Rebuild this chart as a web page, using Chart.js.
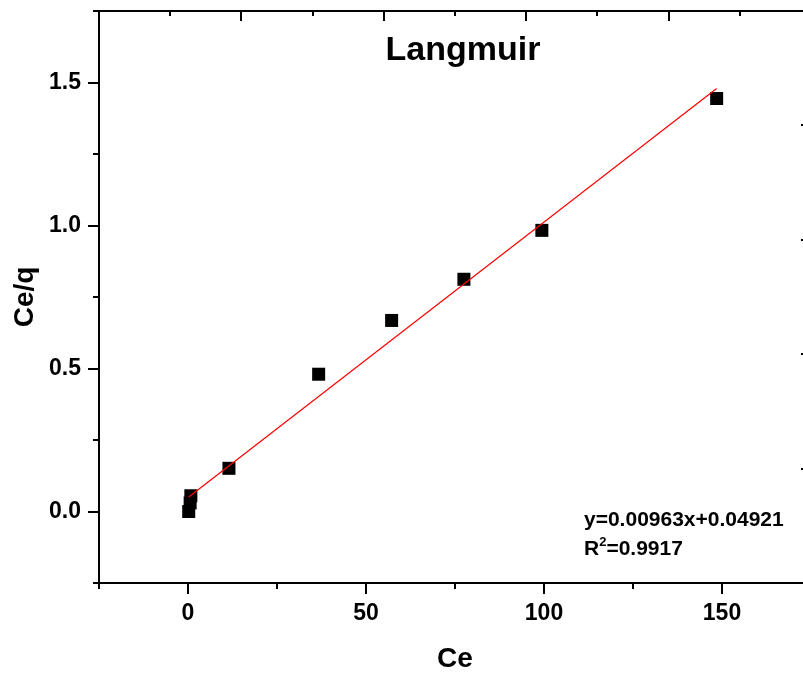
<!DOCTYPE html>
<html>
<head>
<meta charset="utf-8">
<script src="https://cdn.jsdelivr.net/npm/chart.js@4.4.0/dist/chart.umd.min.js"></script>
<style>
  html, body { margin: 0; padding: 0; background: #fff; overflow: hidden; }
  #wrap { width: 830px; height: 673px; }
</style>
</head>
<body>
<div id="wrap"><canvas id="chart" width="830" height="673"></canvas></div>
<script>
"use strict";

// measured points
const ceValues = [0.2, 0.6, 0.8, 11.5, 36.7, 57.2, 77.5, 99.4, 148.5];
const ceqValues = [0.0, 0.03, 0.055, 0.151, 0.48, 0.668, 0.812, 0.983, 1.444];

// linear fit ends
const fitX = [0.2, 148.5];
const fitY = [0.051, 1.479];

const xMajor = [0, 50, 100, 150];
const xMinor = [-25, 25, 75, 125, 175];
const yMajor = [0, 0.5, 1.0, 1.5];
const yMinor = [-0.25, 0.25, 0.75, 1.25, 1.75];
const mirrorMajor = [0, 1, 2, 3, 4, 5];
const mirrorMinor = [0.5, 1.5, 2.5, 3.5, 4.5];

const titleText = 'Langmuir';
const xTitle = 'Ce';
const yTitle = 'Ce/q';
const eqText = 'y=0.00963x+0.04921';
const r2Text = '=0.9917';

const FONT = '"Liberation Sans", Arial, sans-serif';

const frameTicks = {
  id: 'frameTicks',
  afterDraw(chart) {
    const { ctx, chartArea: a, scales } = chart;
    ctx.save();
    ctx.strokeStyle = '#000';
    ctx.lineWidth = 2;
    const line = (x1, y1, x2, y2) => {
      ctx.beginPath();
      ctx.moveTo(x1, y1);
      ctx.lineTo(x2, y2);
      ctx.stroke();
    };
    const px = (s, v) => Math.round(s.getPixelForValue(v));

    // bottom / left: outward
    xMajor.forEach(v => { const p = px(scales.x, v); line(p, a.bottom, p, a.bottom + 11); });
    xMinor.forEach(v => { const p = px(scales.x, v); line(p, a.bottom, p, a.bottom + 6); });
    yMajor.forEach(v => { const p = px(scales.y, v); line(a.left, p, a.left - 11, p); });
    yMinor.forEach(v => { const p = px(scales.y, v); line(a.left, p, a.left - 6, p); });

    // top / right: inward
    mirrorMajor.forEach(v => { const p = px(scales.x2, v); line(p, a.top, p, a.top + 10); });
    mirrorMinor.forEach(v => { const p = px(scales.x2, v); line(p, a.top, p, a.top + 5); });
    mirrorMajor.forEach(v => { const p = px(scales.y2, v); line(a.right, p, a.right - 10, p); });
    mirrorMinor.forEach(v => { const p = px(scales.y2, v); line(a.right, p, a.right - 5, p); });

    // texts
    ctx.fillStyle = '#000';
    ctx.textBaseline = 'alphabetic';
    ctx.textAlign = 'center';
    ctx.font = 'bold 34px ' + FONT;
    ctx.fillText(titleText, 463, 60);

    ctx.textAlign = 'left';
    ctx.font = 'bold 21px ' + FONT;
    ctx.fillText(eqText, 584, 526);
    ctx.fillText('R', 584, 555);
    let w = ctx.measureText('R').width;
    ctx.font = 'bold 13px ' + FONT;
    ctx.fillText('2', 584 + w, 546);
    w += ctx.measureText('2').width;
    ctx.font = 'bold 21px ' + FONT;
    ctx.fillText(r2Text, 584 + w, 555);
    ctx.restore();
  }
};

const axisFont = { family: FONT, size: 23, weight: 'bold' };

// fixed box sizes, no label overhang padding
const fixSize = (size, horizontal) => (s) => {
  if (horizontal) s.height = size; else s.width = size;
  s.paddingTop = 0;
  s.paddingBottom = 0;
  s.paddingLeft = 0;
  s.paddingRight = 0;
};

new Chart(document.getElementById('chart'), {
  type: 'scatter',
  data: {
    datasets: [
      {
        label: 'Linear fit',
        type: 'line',
        data: fitX.map((x, i) => ({ x: x, y: fitY[i] })),
        borderColor: '#ff0000',
        borderWidth: 1.2,
        pointRadius: 0,
        fill: false,
        order: 0
      },
      {
        label: yTitle,
        data: ceValues.map((x, i) => ({ x: x, y: ceqValues[i] })),
        pointStyle: 'rect',
        pointRadius: 9.2,
        backgroundColor: '#000',
        borderWidth: 0,
        order: 1
      }
    ]
  },
  options: {
    responsive: false,
    animation: false,
    devicePixelRatio: 1,
    layout: { padding: { left: 0, top: 11, right: 19, bottom: 0 } },
    plugins: {
      legend: { display: false },
      tooltip: { enabled: false }
    },
    scales: {
      x: {
        type: 'linear',
        position: 'bottom',
        min: -25,
        max: 175,
        afterFit: fixSize(90, true),
        afterBuildTicks: (s) => { s.ticks = xMajor.map(v => ({ value: v })); },
        grid: { display: true, drawOnChartArea: false, drawTicks: false },
        border: { display: true, color: '#000', width: 2 },
        ticks: { autoSkip: false, maxRotation: 0, padding: 17, color: '#000', font: axisFont,
                 callback: (v) => String(v) },
        title: { display: true, text: xTitle, color: '#000',
                 font: { family: FONT, size: 28, weight: 'bold', lineHeight: 1 },
                 padding: { top: 0, bottom: 0 } }
      },
      y: {
        type: 'linear',
        position: 'left',
        min: -0.25,
        max: 1.75,
        afterFit: fixSize(99, false),
        afterBuildTicks: (s) => { s.ticks = yMajor.map(v => ({ value: v })); },
        grid: { display: true, drawOnChartArea: false, drawTicks: false },
        border: { display: true, color: '#000', width: 2 },
        ticks: { autoSkip: false, padding: 18, color: '#000', font: axisFont,
                 callback: (v) => Number(v).toFixed(1) },
        title: { display: true, text: yTitle, color: '#000',
                 font: { family: FONT, size: 28, weight: 'bold', lineHeight: 1.2 },
                 padding: { top: 8, bottom: 0 } }
      },
      x2: {
        type: 'linear',
        position: 'top',
        min: 0,
        max: 5,
        afterFit: fixSize(0, true),
        grid: { display: false },
        border: { display: true, color: '#000', width: 2 },
        ticks: { display: false }
      },
      y2: {
        type: 'linear',
        position: 'right',
        min: 0,
        max: 5,
        afterFit: fixSize(0, false),
        grid: { display: false },
        border: { display: true, color: '#000', width: 2 },
        ticks: { display: false }
      }
    }
  },
  plugins: [frameTicks]
});
</script>
</body>
</html>
